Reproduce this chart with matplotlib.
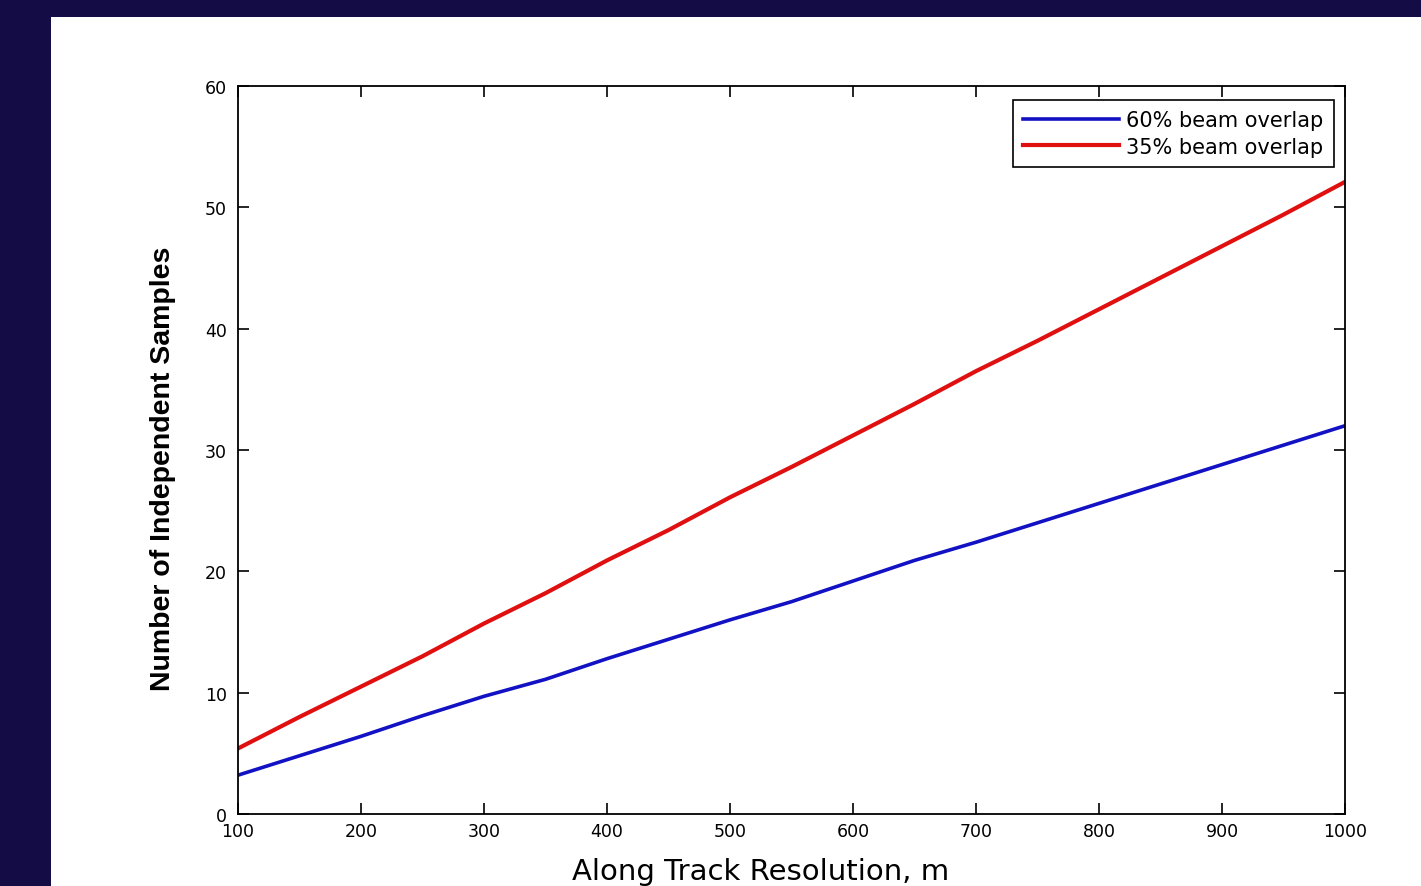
import numpy as np
import matplotlib.pyplot as plt
from matplotlib.patches import Rectangle

# along track resolution (m)
resolution = [100, 150, 200, 250, 300, 350, 400, 450, 500, 550, 600, 650, 700, 750, 800, 850, 900, 950, 1000]
# number of independent samples
overlap_60 = [3.2, 4.8, 6.4, 8.1, 9.7, 11.1, 12.8, 14.4, 16.0, 17.5, 19.2, 20.9, 22.4, 24.0, 25.6, 27.2, 28.8, 30.4, 32.0]
overlap_35 = [5.4, 8.0, 10.5, 13.0, 15.7, 18.2, 20.9, 23.4, 26.1, 28.6, 31.2, 33.8, 36.5, 39.0, 41.6, 44.2, 46.8, 49.4, 52.1]

W, H = 1421, 887
fig = plt.figure(figsize=(W/100, H/100), dpi=100)
fig.patch.set_facecolor('white')

# navy frame on top and left
navy = '#130c45'
fig.patches.append(Rectangle((0, 1 - 18/H), 1, 18/H, transform=fig.transFigure,
                             facecolor=navy, edgecolor='none', zorder=0))
fig.patches.append(Rectangle((0, 0), 51/W, 1, transform=fig.transFigure,
                             facecolor=navy, edgecolor='none', zorder=0))

ax = fig.add_axes([238/W, 1 - 815/H, (1345 - 238)/W, (815 - 87)/H])

ax.plot(resolution, overlap_60, color='#1212c4', lw=2.6, label='60% beam overlap')
ax.plot(resolution, overlap_35, color='#e01010', lw=3.0, label='35% beam overlap')

ax.set_xlim(100, 1000)
ax.set_ylim(0, 60)
ax.set_xticks(np.arange(100, 1001, 100))
ax.set_yticks(np.arange(0, 61, 10))
ax.tick_params(direction='in', length=8, width=1.2, top=True, right=True,
               labelsize=12.5)
ax.tick_params(axis='x', pad=6)
ax.tick_params(axis='y', pad=8)
for sp in ax.spines.values():
    sp.set_linewidth(1.3)

fig.text(761/W, 1 - 872/H, 'Along Track Resolution, m', fontsize=21,
         ha='center', va='center')
ax.set_ylabel('Number of Independent Samples', fontsize=20.5, fontweight='bold',
              family='Liberation Sans')
ax.yaxis.set_label_coords((176 - 238)/1107, (815 - 469)/728)

leg = ax.legend(loc='upper right', bbox_to_anchor=((1334 - 238)/1107, (815 - 101)/728),
                borderaxespad=0, fontsize=15, frameon=True, fancybox=False,
                edgecolor='black', framealpha=1, handlelength=4.6,
                handletextpad=0.35, labelspacing=0.3, borderpad=0.5)
leg.get_frame().set_linewidth(1.2)

fig.savefig('out.png', dpi=100)
